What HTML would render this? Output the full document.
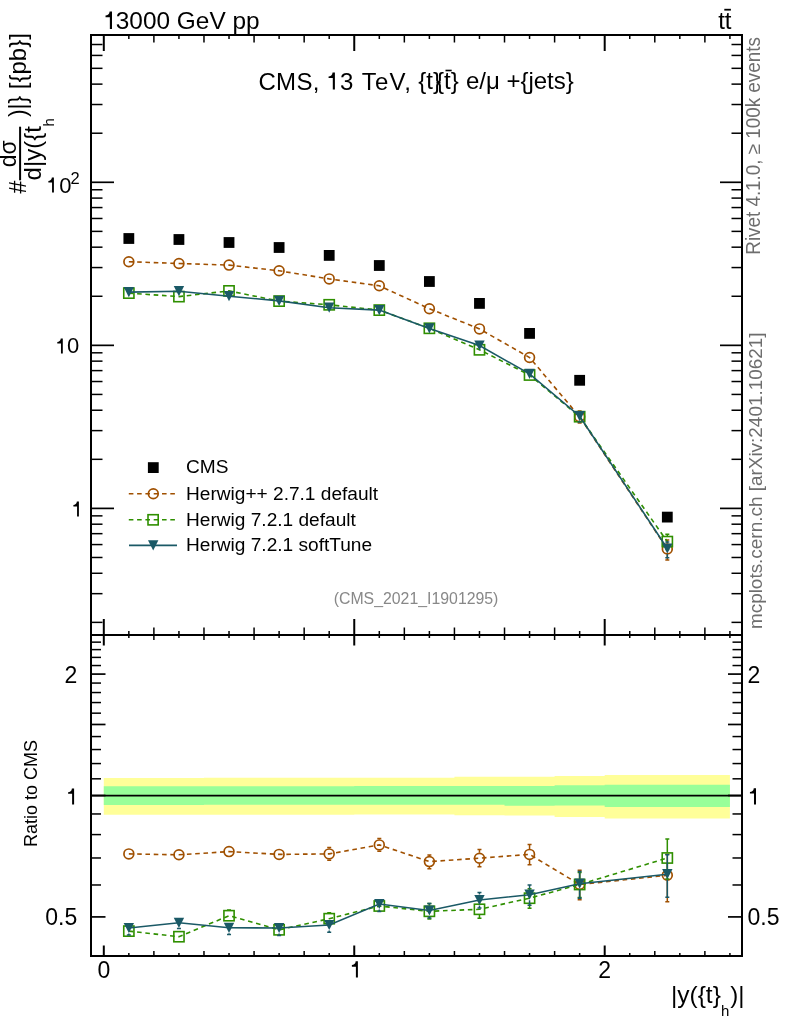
<!DOCTYPE html>
<html><head><meta charset="utf-8"><style>html,body{margin:0;padding:0;background:#fff;width:786px;height:1024px;overflow:hidden}</style></head>
<body><div style="will-change:transform;width:786px;height:1024px"><svg width="786" height="1024" viewBox="0 0 786 1024" style="display:block"><rect width="786" height="1024" fill="#fff"/><path d="M103.80,778.10 L153.89,778.10 L153.89,778.10 L203.98,778.10 L203.98,777.80 L254.07,777.80 L254.07,777.80 L304.16,777.80 L304.16,777.80 L354.25,777.80 L354.25,777.80 L404.34,777.80 L404.34,777.80 L454.43,777.80 L454.43,776.80 L504.52,776.80 L504.52,776.80 L554.61,776.80 L554.61,776.00 L604.70,776.00 L604.70,774.90 L729.92,774.90 L729.92,818.40 L604.70,818.40 L604.70,817.00 L554.61,817.00 L554.61,815.50 L504.52,815.50 L504.52,815.30 L454.43,815.30 L454.43,814.50 L404.34,814.50 L404.34,814.60 L354.25,814.60 L354.25,814.80 L304.16,814.80 L304.16,814.80 L254.07,814.80 L254.07,814.80 L203.98,814.80 L203.98,814.80 L153.89,814.80 L153.89,814.80 L103.80,814.80 Z" fill="#FFFF99"/><path d="M103.80,786.30 L153.89,786.30 L153.89,786.30 L203.98,786.30 L203.98,786.20 L254.07,786.20 L254.07,786.20 L304.16,786.20 L304.16,786.20 L354.25,786.20 L354.25,786.10 L404.34,786.10 L404.34,786.00 L454.43,786.00 L454.43,786.00 L504.52,786.00 L504.52,786.00 L554.61,786.00 L554.61,785.30 L604.70,785.30 L604.70,784.70 L729.92,784.70 L729.92,806.90 L604.70,806.90 L604.70,805.50 L554.61,805.50 L554.61,805.70 L504.52,805.70 L504.52,804.70 L454.43,804.70 L454.43,804.70 L404.34,804.70 L404.34,804.70 L354.25,804.70 L354.25,804.80 L304.16,804.80 L304.16,804.80 L254.07,804.80 L254.07,804.80 L203.98,804.80 L203.98,805.00 L153.89,805.00 L153.89,805.00 L103.80,805.00 Z" fill="#99FF99"/><line x1="91" y1="795.6" x2="742" y2="795.6" stroke="#000" stroke-width="1.6"/><line x1="103.80" y1="35.00" x2="103.80" y2="51.00" stroke="#000" stroke-width="2"/><line x1="103.80" y1="635.00" x2="103.80" y2="619.00" stroke="#000" stroke-width="2"/><line x1="103.80" y1="635.00" x2="103.80" y2="645.50" stroke="#000" stroke-width="2"/><line x1="103.80" y1="956.00" x2="103.80" y2="945.50" stroke="#000" stroke-width="2"/><line x1="128.84" y1="35.00" x2="128.84" y2="39.00" stroke="#000" stroke-width="1.5"/><line x1="128.84" y1="635.00" x2="128.84" y2="631.00" stroke="#000" stroke-width="1.5"/><line x1="128.84" y1="635.00" x2="128.84" y2="638.00" stroke="#000" stroke-width="1.5"/><line x1="128.84" y1="956.00" x2="128.84" y2="953.00" stroke="#000" stroke-width="1.5"/><line x1="153.89" y1="35.00" x2="153.89" y2="42.50" stroke="#000" stroke-width="1.5"/><line x1="153.89" y1="635.00" x2="153.89" y2="627.50" stroke="#000" stroke-width="1.5"/><line x1="153.89" y1="635.00" x2="153.89" y2="640.00" stroke="#000" stroke-width="1.5"/><line x1="153.89" y1="956.00" x2="153.89" y2="951.00" stroke="#000" stroke-width="1.5"/><line x1="178.94" y1="35.00" x2="178.94" y2="39.00" stroke="#000" stroke-width="1.5"/><line x1="178.94" y1="635.00" x2="178.94" y2="631.00" stroke="#000" stroke-width="1.5"/><line x1="178.94" y1="635.00" x2="178.94" y2="638.00" stroke="#000" stroke-width="1.5"/><line x1="178.94" y1="956.00" x2="178.94" y2="953.00" stroke="#000" stroke-width="1.5"/><line x1="203.98" y1="35.00" x2="203.98" y2="42.50" stroke="#000" stroke-width="1.5"/><line x1="203.98" y1="635.00" x2="203.98" y2="627.50" stroke="#000" stroke-width="1.5"/><line x1="203.98" y1="635.00" x2="203.98" y2="640.00" stroke="#000" stroke-width="1.5"/><line x1="203.98" y1="956.00" x2="203.98" y2="951.00" stroke="#000" stroke-width="1.5"/><line x1="229.02" y1="35.00" x2="229.02" y2="39.00" stroke="#000" stroke-width="1.5"/><line x1="229.02" y1="635.00" x2="229.02" y2="631.00" stroke="#000" stroke-width="1.5"/><line x1="229.02" y1="635.00" x2="229.02" y2="638.00" stroke="#000" stroke-width="1.5"/><line x1="229.02" y1="956.00" x2="229.02" y2="953.00" stroke="#000" stroke-width="1.5"/><line x1="254.07" y1="35.00" x2="254.07" y2="42.50" stroke="#000" stroke-width="1.5"/><line x1="254.07" y1="635.00" x2="254.07" y2="627.50" stroke="#000" stroke-width="1.5"/><line x1="254.07" y1="635.00" x2="254.07" y2="640.00" stroke="#000" stroke-width="1.5"/><line x1="254.07" y1="956.00" x2="254.07" y2="951.00" stroke="#000" stroke-width="1.5"/><line x1="279.11" y1="35.00" x2="279.11" y2="39.00" stroke="#000" stroke-width="1.5"/><line x1="279.11" y1="635.00" x2="279.11" y2="631.00" stroke="#000" stroke-width="1.5"/><line x1="279.11" y1="635.00" x2="279.11" y2="638.00" stroke="#000" stroke-width="1.5"/><line x1="279.11" y1="956.00" x2="279.11" y2="953.00" stroke="#000" stroke-width="1.5"/><line x1="304.16" y1="35.00" x2="304.16" y2="42.50" stroke="#000" stroke-width="1.5"/><line x1="304.16" y1="635.00" x2="304.16" y2="627.50" stroke="#000" stroke-width="1.5"/><line x1="304.16" y1="635.00" x2="304.16" y2="640.00" stroke="#000" stroke-width="1.5"/><line x1="304.16" y1="956.00" x2="304.16" y2="951.00" stroke="#000" stroke-width="1.5"/><line x1="329.20" y1="35.00" x2="329.20" y2="39.00" stroke="#000" stroke-width="1.5"/><line x1="329.20" y1="635.00" x2="329.20" y2="631.00" stroke="#000" stroke-width="1.5"/><line x1="329.20" y1="635.00" x2="329.20" y2="638.00" stroke="#000" stroke-width="1.5"/><line x1="329.20" y1="956.00" x2="329.20" y2="953.00" stroke="#000" stroke-width="1.5"/><line x1="354.25" y1="35.00" x2="354.25" y2="51.00" stroke="#000" stroke-width="2"/><line x1="354.25" y1="635.00" x2="354.25" y2="619.00" stroke="#000" stroke-width="2"/><line x1="354.25" y1="635.00" x2="354.25" y2="645.50" stroke="#000" stroke-width="2"/><line x1="354.25" y1="956.00" x2="354.25" y2="945.50" stroke="#000" stroke-width="2"/><line x1="379.30" y1="35.00" x2="379.30" y2="39.00" stroke="#000" stroke-width="1.5"/><line x1="379.30" y1="635.00" x2="379.30" y2="631.00" stroke="#000" stroke-width="1.5"/><line x1="379.30" y1="635.00" x2="379.30" y2="638.00" stroke="#000" stroke-width="1.5"/><line x1="379.30" y1="956.00" x2="379.30" y2="953.00" stroke="#000" stroke-width="1.5"/><line x1="404.34" y1="35.00" x2="404.34" y2="42.50" stroke="#000" stroke-width="1.5"/><line x1="404.34" y1="635.00" x2="404.34" y2="627.50" stroke="#000" stroke-width="1.5"/><line x1="404.34" y1="635.00" x2="404.34" y2="640.00" stroke="#000" stroke-width="1.5"/><line x1="404.34" y1="956.00" x2="404.34" y2="951.00" stroke="#000" stroke-width="1.5"/><line x1="429.38" y1="35.00" x2="429.38" y2="39.00" stroke="#000" stroke-width="1.5"/><line x1="429.38" y1="635.00" x2="429.38" y2="631.00" stroke="#000" stroke-width="1.5"/><line x1="429.38" y1="635.00" x2="429.38" y2="638.00" stroke="#000" stroke-width="1.5"/><line x1="429.38" y1="956.00" x2="429.38" y2="953.00" stroke="#000" stroke-width="1.5"/><line x1="454.43" y1="35.00" x2="454.43" y2="42.50" stroke="#000" stroke-width="1.5"/><line x1="454.43" y1="635.00" x2="454.43" y2="627.50" stroke="#000" stroke-width="1.5"/><line x1="454.43" y1="635.00" x2="454.43" y2="640.00" stroke="#000" stroke-width="1.5"/><line x1="454.43" y1="956.00" x2="454.43" y2="951.00" stroke="#000" stroke-width="1.5"/><line x1="479.47" y1="35.00" x2="479.47" y2="39.00" stroke="#000" stroke-width="1.5"/><line x1="479.47" y1="635.00" x2="479.47" y2="631.00" stroke="#000" stroke-width="1.5"/><line x1="479.47" y1="635.00" x2="479.47" y2="638.00" stroke="#000" stroke-width="1.5"/><line x1="479.47" y1="956.00" x2="479.47" y2="953.00" stroke="#000" stroke-width="1.5"/><line x1="504.52" y1="35.00" x2="504.52" y2="42.50" stroke="#000" stroke-width="1.5"/><line x1="504.52" y1="635.00" x2="504.52" y2="627.50" stroke="#000" stroke-width="1.5"/><line x1="504.52" y1="635.00" x2="504.52" y2="640.00" stroke="#000" stroke-width="1.5"/><line x1="504.52" y1="956.00" x2="504.52" y2="951.00" stroke="#000" stroke-width="1.5"/><line x1="529.56" y1="35.00" x2="529.56" y2="39.00" stroke="#000" stroke-width="1.5"/><line x1="529.56" y1="635.00" x2="529.56" y2="631.00" stroke="#000" stroke-width="1.5"/><line x1="529.56" y1="635.00" x2="529.56" y2="638.00" stroke="#000" stroke-width="1.5"/><line x1="529.56" y1="956.00" x2="529.56" y2="953.00" stroke="#000" stroke-width="1.5"/><line x1="554.61" y1="35.00" x2="554.61" y2="42.50" stroke="#000" stroke-width="1.5"/><line x1="554.61" y1="635.00" x2="554.61" y2="627.50" stroke="#000" stroke-width="1.5"/><line x1="554.61" y1="635.00" x2="554.61" y2="640.00" stroke="#000" stroke-width="1.5"/><line x1="554.61" y1="956.00" x2="554.61" y2="951.00" stroke="#000" stroke-width="1.5"/><line x1="579.65" y1="35.00" x2="579.65" y2="39.00" stroke="#000" stroke-width="1.5"/><line x1="579.65" y1="635.00" x2="579.65" y2="631.00" stroke="#000" stroke-width="1.5"/><line x1="579.65" y1="635.00" x2="579.65" y2="638.00" stroke="#000" stroke-width="1.5"/><line x1="579.65" y1="956.00" x2="579.65" y2="953.00" stroke="#000" stroke-width="1.5"/><line x1="604.70" y1="35.00" x2="604.70" y2="51.00" stroke="#000" stroke-width="2"/><line x1="604.70" y1="635.00" x2="604.70" y2="619.00" stroke="#000" stroke-width="2"/><line x1="604.70" y1="635.00" x2="604.70" y2="645.50" stroke="#000" stroke-width="2"/><line x1="604.70" y1="956.00" x2="604.70" y2="945.50" stroke="#000" stroke-width="2"/><line x1="629.75" y1="35.00" x2="629.75" y2="39.00" stroke="#000" stroke-width="1.5"/><line x1="629.75" y1="635.00" x2="629.75" y2="631.00" stroke="#000" stroke-width="1.5"/><line x1="629.75" y1="635.00" x2="629.75" y2="638.00" stroke="#000" stroke-width="1.5"/><line x1="629.75" y1="956.00" x2="629.75" y2="953.00" stroke="#000" stroke-width="1.5"/><line x1="654.79" y1="35.00" x2="654.79" y2="42.50" stroke="#000" stroke-width="1.5"/><line x1="654.79" y1="635.00" x2="654.79" y2="627.50" stroke="#000" stroke-width="1.5"/><line x1="654.79" y1="635.00" x2="654.79" y2="640.00" stroke="#000" stroke-width="1.5"/><line x1="654.79" y1="956.00" x2="654.79" y2="951.00" stroke="#000" stroke-width="1.5"/><line x1="679.83" y1="35.00" x2="679.83" y2="39.00" stroke="#000" stroke-width="1.5"/><line x1="679.83" y1="635.00" x2="679.83" y2="631.00" stroke="#000" stroke-width="1.5"/><line x1="679.83" y1="635.00" x2="679.83" y2="638.00" stroke="#000" stroke-width="1.5"/><line x1="679.83" y1="956.00" x2="679.83" y2="953.00" stroke="#000" stroke-width="1.5"/><line x1="704.88" y1="35.00" x2="704.88" y2="42.50" stroke="#000" stroke-width="1.5"/><line x1="704.88" y1="635.00" x2="704.88" y2="627.50" stroke="#000" stroke-width="1.5"/><line x1="704.88" y1="635.00" x2="704.88" y2="640.00" stroke="#000" stroke-width="1.5"/><line x1="704.88" y1="956.00" x2="704.88" y2="951.00" stroke="#000" stroke-width="1.5"/><line x1="729.92" y1="35.00" x2="729.92" y2="39.00" stroke="#000" stroke-width="1.5"/><line x1="729.92" y1="635.00" x2="729.92" y2="631.00" stroke="#000" stroke-width="1.5"/><line x1="729.92" y1="635.00" x2="729.92" y2="638.00" stroke="#000" stroke-width="1.5"/><line x1="729.92" y1="956.00" x2="729.92" y2="953.00" stroke="#000" stroke-width="1.5"/><line x1="91.00" y1="622.37" x2="102.50" y2="622.37" stroke="#000" stroke-width="1.5"/><line x1="742.00" y1="622.37" x2="731.50" y2="622.37" stroke="#000" stroke-width="1.5"/><line x1="91.00" y1="593.66" x2="102.50" y2="593.66" stroke="#000" stroke-width="1.5"/><line x1="742.00" y1="593.66" x2="731.50" y2="593.66" stroke="#000" stroke-width="1.5"/><line x1="91.00" y1="573.28" x2="102.50" y2="573.28" stroke="#000" stroke-width="1.5"/><line x1="742.00" y1="573.28" x2="731.50" y2="573.28" stroke="#000" stroke-width="1.5"/><line x1="91.00" y1="557.48" x2="102.50" y2="557.48" stroke="#000" stroke-width="1.5"/><line x1="742.00" y1="557.48" x2="731.50" y2="557.48" stroke="#000" stroke-width="1.5"/><line x1="91.00" y1="544.57" x2="102.50" y2="544.57" stroke="#000" stroke-width="1.5"/><line x1="742.00" y1="544.57" x2="731.50" y2="544.57" stroke="#000" stroke-width="1.5"/><line x1="91.00" y1="533.66" x2="102.50" y2="533.66" stroke="#000" stroke-width="1.5"/><line x1="742.00" y1="533.66" x2="731.50" y2="533.66" stroke="#000" stroke-width="1.5"/><line x1="91.00" y1="524.20" x2="102.50" y2="524.20" stroke="#000" stroke-width="1.5"/><line x1="742.00" y1="524.20" x2="731.50" y2="524.20" stroke="#000" stroke-width="1.5"/><line x1="91.00" y1="515.86" x2="102.50" y2="515.86" stroke="#000" stroke-width="1.5"/><line x1="742.00" y1="515.86" x2="731.50" y2="515.86" stroke="#000" stroke-width="1.5"/><line x1="91.00" y1="508.40" x2="114.00" y2="508.40" stroke="#000" stroke-width="1.7"/><line x1="742.00" y1="508.40" x2="720.00" y2="508.40" stroke="#000" stroke-width="1.7"/><line x1="91.00" y1="459.32" x2="102.50" y2="459.32" stroke="#000" stroke-width="1.5"/><line x1="742.00" y1="459.32" x2="731.50" y2="459.32" stroke="#000" stroke-width="1.5"/><line x1="91.00" y1="430.61" x2="102.50" y2="430.61" stroke="#000" stroke-width="1.5"/><line x1="742.00" y1="430.61" x2="731.50" y2="430.61" stroke="#000" stroke-width="1.5"/><line x1="91.00" y1="410.23" x2="102.50" y2="410.23" stroke="#000" stroke-width="1.5"/><line x1="742.00" y1="410.23" x2="731.50" y2="410.23" stroke="#000" stroke-width="1.5"/><line x1="91.00" y1="394.43" x2="102.50" y2="394.43" stroke="#000" stroke-width="1.5"/><line x1="742.00" y1="394.43" x2="731.50" y2="394.43" stroke="#000" stroke-width="1.5"/><line x1="91.00" y1="381.52" x2="102.50" y2="381.52" stroke="#000" stroke-width="1.5"/><line x1="742.00" y1="381.52" x2="731.50" y2="381.52" stroke="#000" stroke-width="1.5"/><line x1="91.00" y1="370.61" x2="102.50" y2="370.61" stroke="#000" stroke-width="1.5"/><line x1="742.00" y1="370.61" x2="731.50" y2="370.61" stroke="#000" stroke-width="1.5"/><line x1="91.00" y1="361.15" x2="102.50" y2="361.15" stroke="#000" stroke-width="1.5"/><line x1="742.00" y1="361.15" x2="731.50" y2="361.15" stroke="#000" stroke-width="1.5"/><line x1="91.00" y1="352.81" x2="102.50" y2="352.81" stroke="#000" stroke-width="1.5"/><line x1="742.00" y1="352.81" x2="731.50" y2="352.81" stroke="#000" stroke-width="1.5"/><line x1="91.00" y1="345.35" x2="114.00" y2="345.35" stroke="#000" stroke-width="1.7"/><line x1="742.00" y1="345.35" x2="720.00" y2="345.35" stroke="#000" stroke-width="1.7"/><line x1="91.00" y1="296.27" x2="102.50" y2="296.27" stroke="#000" stroke-width="1.5"/><line x1="742.00" y1="296.27" x2="731.50" y2="296.27" stroke="#000" stroke-width="1.5"/><line x1="91.00" y1="267.56" x2="102.50" y2="267.56" stroke="#000" stroke-width="1.5"/><line x1="742.00" y1="267.56" x2="731.50" y2="267.56" stroke="#000" stroke-width="1.5"/><line x1="91.00" y1="247.18" x2="102.50" y2="247.18" stroke="#000" stroke-width="1.5"/><line x1="742.00" y1="247.18" x2="731.50" y2="247.18" stroke="#000" stroke-width="1.5"/><line x1="91.00" y1="231.38" x2="102.50" y2="231.38" stroke="#000" stroke-width="1.5"/><line x1="742.00" y1="231.38" x2="731.50" y2="231.38" stroke="#000" stroke-width="1.5"/><line x1="91.00" y1="218.47" x2="102.50" y2="218.47" stroke="#000" stroke-width="1.5"/><line x1="742.00" y1="218.47" x2="731.50" y2="218.47" stroke="#000" stroke-width="1.5"/><line x1="91.00" y1="207.56" x2="102.50" y2="207.56" stroke="#000" stroke-width="1.5"/><line x1="742.00" y1="207.56" x2="731.50" y2="207.56" stroke="#000" stroke-width="1.5"/><line x1="91.00" y1="198.10" x2="102.50" y2="198.10" stroke="#000" stroke-width="1.5"/><line x1="742.00" y1="198.10" x2="731.50" y2="198.10" stroke="#000" stroke-width="1.5"/><line x1="91.00" y1="189.76" x2="102.50" y2="189.76" stroke="#000" stroke-width="1.5"/><line x1="742.00" y1="189.76" x2="731.50" y2="189.76" stroke="#000" stroke-width="1.5"/><line x1="91.00" y1="182.30" x2="114.00" y2="182.30" stroke="#000" stroke-width="1.7"/><line x1="742.00" y1="182.30" x2="720.00" y2="182.30" stroke="#000" stroke-width="1.7"/><line x1="91.00" y1="133.22" x2="102.50" y2="133.22" stroke="#000" stroke-width="1.5"/><line x1="742.00" y1="133.22" x2="731.50" y2="133.22" stroke="#000" stroke-width="1.5"/><line x1="91.00" y1="104.51" x2="102.50" y2="104.51" stroke="#000" stroke-width="1.5"/><line x1="742.00" y1="104.51" x2="731.50" y2="104.51" stroke="#000" stroke-width="1.5"/><line x1="91.00" y1="84.13" x2="102.50" y2="84.13" stroke="#000" stroke-width="1.5"/><line x1="742.00" y1="84.13" x2="731.50" y2="84.13" stroke="#000" stroke-width="1.5"/><line x1="91.00" y1="68.33" x2="102.50" y2="68.33" stroke="#000" stroke-width="1.5"/><line x1="742.00" y1="68.33" x2="731.50" y2="68.33" stroke="#000" stroke-width="1.5"/><line x1="91.00" y1="55.42" x2="102.50" y2="55.42" stroke="#000" stroke-width="1.5"/><line x1="742.00" y1="55.42" x2="731.50" y2="55.42" stroke="#000" stroke-width="1.5"/><line x1="91.00" y1="44.51" x2="102.50" y2="44.51" stroke="#000" stroke-width="1.5"/><line x1="742.00" y1="44.51" x2="731.50" y2="44.51" stroke="#000" stroke-width="1.5"/><line x1="91.00" y1="35.05" x2="102.50" y2="35.05" stroke="#000" stroke-width="1.5"/><line x1="742.00" y1="35.05" x2="731.50" y2="35.05" stroke="#000" stroke-width="1.5"/><line x1="91.00" y1="956.00" x2="101.00" y2="956.00" stroke="#000" stroke-width="1.5"/><line x1="742.00" y1="956.00" x2="732.50" y2="956.00" stroke="#000" stroke-width="1.5"/><line x1="91.00" y1="916.91" x2="105.50" y2="916.91" stroke="#000" stroke-width="1.7"/><line x1="742.00" y1="916.91" x2="728.00" y2="916.91" stroke="#000" stroke-width="1.7"/><line x1="91.00" y1="884.98" x2="101.00" y2="884.98" stroke="#000" stroke-width="1.5"/><line x1="742.00" y1="884.98" x2="732.50" y2="884.98" stroke="#000" stroke-width="1.5"/><line x1="91.00" y1="857.98" x2="101.00" y2="857.98" stroke="#000" stroke-width="1.5"/><line x1="742.00" y1="857.98" x2="732.50" y2="857.98" stroke="#000" stroke-width="1.5"/><line x1="91.00" y1="834.59" x2="101.00" y2="834.59" stroke="#000" stroke-width="1.5"/><line x1="742.00" y1="834.59" x2="732.50" y2="834.59" stroke="#000" stroke-width="1.5"/><line x1="91.00" y1="813.96" x2="101.00" y2="813.96" stroke="#000" stroke-width="1.5"/><line x1="742.00" y1="813.96" x2="732.50" y2="813.96" stroke="#000" stroke-width="1.5"/><line x1="91.00" y1="795.50" x2="105.50" y2="795.50" stroke="#000" stroke-width="1.7"/><line x1="742.00" y1="795.50" x2="728.00" y2="795.50" stroke="#000" stroke-width="1.7"/><line x1="91.00" y1="778.81" x2="101.00" y2="778.81" stroke="#000" stroke-width="1.5"/><line x1="742.00" y1="778.81" x2="732.50" y2="778.81" stroke="#000" stroke-width="1.5"/><line x1="91.00" y1="763.56" x2="101.00" y2="763.56" stroke="#000" stroke-width="1.5"/><line x1="742.00" y1="763.56" x2="732.50" y2="763.56" stroke="#000" stroke-width="1.5"/><line x1="91.00" y1="749.54" x2="101.00" y2="749.54" stroke="#000" stroke-width="1.5"/><line x1="742.00" y1="749.54" x2="732.50" y2="749.54" stroke="#000" stroke-width="1.5"/><line x1="91.00" y1="736.56" x2="101.00" y2="736.56" stroke="#000" stroke-width="1.5"/><line x1="742.00" y1="736.56" x2="732.50" y2="736.56" stroke="#000" stroke-width="1.5"/><line x1="91.00" y1="724.48" x2="105.50" y2="724.48" stroke="#000" stroke-width="1.7"/><line x1="742.00" y1="724.48" x2="728.00" y2="724.48" stroke="#000" stroke-width="1.7"/><line x1="91.00" y1="713.17" x2="101.00" y2="713.17" stroke="#000" stroke-width="1.5"/><line x1="742.00" y1="713.17" x2="732.50" y2="713.17" stroke="#000" stroke-width="1.5"/><line x1="91.00" y1="702.55" x2="101.00" y2="702.55" stroke="#000" stroke-width="1.5"/><line x1="742.00" y1="702.55" x2="732.50" y2="702.55" stroke="#000" stroke-width="1.5"/><line x1="91.00" y1="692.54" x2="101.00" y2="692.54" stroke="#000" stroke-width="1.5"/><line x1="742.00" y1="692.54" x2="732.50" y2="692.54" stroke="#000" stroke-width="1.5"/><line x1="91.00" y1="683.07" x2="101.00" y2="683.07" stroke="#000" stroke-width="1.5"/><line x1="742.00" y1="683.07" x2="732.50" y2="683.07" stroke="#000" stroke-width="1.5"/><line x1="91.00" y1="674.09" x2="105.50" y2="674.09" stroke="#000" stroke-width="1.7"/><line x1="742.00" y1="674.09" x2="728.00" y2="674.09" stroke="#000" stroke-width="1.7"/><line x1="91.00" y1="665.54" x2="101.00" y2="665.54" stroke="#000" stroke-width="1.5"/><line x1="742.00" y1="665.54" x2="732.50" y2="665.54" stroke="#000" stroke-width="1.5"/><line x1="91.00" y1="657.39" x2="101.00" y2="657.39" stroke="#000" stroke-width="1.5"/><line x1="742.00" y1="657.39" x2="732.50" y2="657.39" stroke="#000" stroke-width="1.5"/><line x1="91.00" y1="649.61" x2="101.00" y2="649.61" stroke="#000" stroke-width="1.5"/><line x1="742.00" y1="649.61" x2="732.50" y2="649.61" stroke="#000" stroke-width="1.5"/><line x1="91.00" y1="642.15" x2="101.00" y2="642.15" stroke="#000" stroke-width="1.5"/><line x1="742.00" y1="642.15" x2="732.50" y2="642.15" stroke="#000" stroke-width="1.5"/><line x1="91.00" y1="635.00" x2="101.00" y2="635.00" stroke="#000" stroke-width="1.5"/><line x1="742.00" y1="635.00" x2="732.50" y2="635.00" stroke="#000" stroke-width="1.5"/><rect x="91" y="35" width="651" height="921" fill="none" stroke="#000" stroke-width="2"/><line x1="91" y1="635" x2="742" y2="635" stroke="#000" stroke-width="2"/><path d="M579.65,411.02 V411.30 M579.65,422.30 V422.98 M577.65,411.02 H581.65 M577.65,422.98 H581.65" stroke="#A05000" stroke-width="1.5" fill="none"/><path d="M667.31,539.90 V543.50 M667.31,554.50 V560.00 M665.31,539.90 H669.31 M665.31,560.00 H669.31" stroke="#A05000" stroke-width="1.5" fill="none"/><polyline points="128.84,261.70 178.94,263.50 229.02,265.10 279.11,270.80 329.20,278.90 379.30,285.80 429.38,308.70 479.47,328.90 529.56,357.50 579.65,416.80 667.31,549.00" fill="none" stroke="#A05000" stroke-width="1.6" stroke-dasharray="4.6,3.7"/><circle cx="128.84" cy="261.70" r="4.9" fill="none" stroke="#A05000" stroke-width="1.7"/><circle cx="178.94" cy="263.50" r="4.9" fill="none" stroke="#A05000" stroke-width="1.7"/><circle cx="229.02" cy="265.10" r="4.9" fill="none" stroke="#A05000" stroke-width="1.7"/><circle cx="279.11" cy="270.80" r="4.9" fill="none" stroke="#A05000" stroke-width="1.7"/><circle cx="329.20" cy="278.90" r="4.9" fill="none" stroke="#A05000" stroke-width="1.7"/><circle cx="379.30" cy="285.80" r="4.9" fill="none" stroke="#A05000" stroke-width="1.7"/><circle cx="429.38" cy="308.70" r="4.9" fill="none" stroke="#A05000" stroke-width="1.7"/><circle cx="479.47" cy="328.90" r="4.9" fill="none" stroke="#A05000" stroke-width="1.7"/><circle cx="529.56" cy="357.50" r="4.9" fill="none" stroke="#A05000" stroke-width="1.7"/><circle cx="579.65" cy="416.80" r="4.9" fill="none" stroke="#A05000" stroke-width="1.7"/><circle cx="667.31" cy="549.00" r="4.9" fill="none" stroke="#A05000" stroke-width="1.7"/><path d="M667.31,534.30 V536.10 M667.31,547.10 V549.60 M665.31,534.30 H669.31 M665.31,549.60 H669.31" stroke="#2F8F00" stroke-width="1.5" fill="none"/><polyline points="128.84,293.10 178.94,296.60 229.02,290.90 279.11,301.10 329.20,304.80 379.30,310.10 429.38,328.30 479.47,349.80 529.56,375.00 579.65,416.70 667.31,541.60" fill="none" stroke="#2F8F00" stroke-width="1.6" stroke-dasharray="4.6,3.7"/><rect x="123.75" y="288.00" width="10.2" height="10.2" fill="none" stroke="#2F8F00" stroke-width="1.6"/><rect x="173.84" y="291.50" width="10.2" height="10.2" fill="none" stroke="#2F8F00" stroke-width="1.6"/><rect x="223.92" y="285.80" width="10.2" height="10.2" fill="none" stroke="#2F8F00" stroke-width="1.6"/><rect x="274.01" y="296.00" width="10.2" height="10.2" fill="none" stroke="#2F8F00" stroke-width="1.6"/><rect x="324.10" y="299.70" width="10.2" height="10.2" fill="none" stroke="#2F8F00" stroke-width="1.6"/><rect x="374.19" y="305.00" width="10.2" height="10.2" fill="none" stroke="#2F8F00" stroke-width="1.6"/><rect x="424.28" y="323.20" width="10.2" height="10.2" fill="none" stroke="#2F8F00" stroke-width="1.6"/><rect x="474.37" y="344.70" width="10.2" height="10.2" fill="none" stroke="#2F8F00" stroke-width="1.6"/><rect x="524.46" y="369.90" width="10.2" height="10.2" fill="none" stroke="#2F8F00" stroke-width="1.6"/><rect x="574.55" y="411.60" width="10.2" height="10.2" fill="none" stroke="#2F8F00" stroke-width="1.6"/><rect x="662.21" y="536.50" width="10.2" height="10.2" fill="none" stroke="#2F8F00" stroke-width="1.6"/><path d="M579.65,421.70 V422.06 M577.65,422.06 H581.65" stroke="#1A5966" stroke-width="1.5" fill="none"/><path d="M667.31,541.90 V543.00 M667.31,554.00 V557.70 M665.31,541.90 H669.31 M665.31,557.70 H669.31" stroke="#1A5966" stroke-width="1.5" fill="none"/><polyline points="128.84,292.10 178.94,291.20 229.02,296.20 279.11,300.90 329.20,307.70 379.30,310.10 429.38,328.40 479.47,345.50 529.56,373.90 579.65,416.20 667.31,548.50" fill="none" stroke="#1A5966" stroke-width="1.6"/><path d="M123.64,287.00 L134.04,287.00 L128.84,297.20 Z" fill="#1A5966"/><path d="M173.74,286.10 L184.13,286.10 L178.94,296.30 Z" fill="#1A5966"/><path d="M223.82,291.10 L234.22,291.10 L229.02,301.30 Z" fill="#1A5966"/><path d="M273.91,295.80 L284.31,295.80 L279.11,306.00 Z" fill="#1A5966"/><path d="M324.00,302.60 L334.40,302.60 L329.20,312.80 Z" fill="#1A5966"/><path d="M374.10,305.00 L384.50,305.00 L379.30,315.20 Z" fill="#1A5966"/><path d="M424.19,323.30 L434.58,323.30 L429.38,333.50 Z" fill="#1A5966"/><path d="M474.27,340.40 L484.67,340.40 L479.47,350.60 Z" fill="#1A5966"/><path d="M524.36,368.80 L534.76,368.80 L529.56,379.00 Z" fill="#1A5966"/><path d="M574.45,411.10 L584.86,411.10 L579.65,421.30 Z" fill="#1A5966"/><path d="M662.11,543.40 L672.51,543.40 L667.31,553.60 Z" fill="#1A5966"/><rect x="123.44" y="233.10" width="10.8" height="10.8" fill="#000"/><rect x="173.53" y="234.10" width="10.8" height="10.8" fill="#000"/><rect x="223.62" y="237.10" width="10.8" height="10.8" fill="#000"/><rect x="273.71" y="242.10" width="10.8" height="10.8" fill="#000"/><rect x="323.81" y="250.00" width="10.8" height="10.8" fill="#000"/><rect x="373.90" y="260.10" width="10.8" height="10.8" fill="#000"/><rect x="423.99" y="276.10" width="10.8" height="10.8" fill="#000"/><rect x="474.07" y="298.00" width="10.8" height="10.8" fill="#000"/><rect x="524.16" y="328.00" width="10.8" height="10.8" fill="#000"/><rect x="574.25" y="374.90" width="10.8" height="10.8" fill="#000"/><rect x="661.91" y="511.70" width="10.8" height="10.8" fill="#000"/><path d="M329.20,847.60 V848.40 M329.20,859.40 V860.20 M327.20,847.60 H331.20 M327.20,860.20 H331.20" stroke="#A05000" stroke-width="1.5" fill="none"/><path d="M379.30,838.60 V839.40 M379.30,850.40 V851.20 M377.30,838.60 H381.30 M377.30,851.20 H381.30" stroke="#A05000" stroke-width="1.5" fill="none"/><path d="M429.38,855.00 V856.10 M429.38,867.10 V868.70 M427.38,855.00 H431.38 M427.38,868.70 H431.38" stroke="#A05000" stroke-width="1.5" fill="none"/><path d="M479.47,849.60 V852.70 M479.47,863.70 V866.80 M477.47,849.60 H481.47 M477.47,866.80 H481.47" stroke="#A05000" stroke-width="1.5" fill="none"/><path d="M529.56,844.40 V848.90 M529.56,859.90 V864.80 M527.56,844.40 H531.56 M527.56,864.80 H531.56" stroke="#A05000" stroke-width="1.5" fill="none"/><path d="M579.65,870.20 V879.00 M579.65,890.00 V899.80 M577.65,870.20 H581.65 M577.65,899.80 H581.65" stroke="#A05000" stroke-width="1.5" fill="none"/><path d="M667.31,854.30 V869.80 M667.31,880.80 V901.70 M665.31,854.30 H669.31 M665.31,901.70 H669.31" stroke="#A05000" stroke-width="1.5" fill="none"/><polyline points="128.84,853.90 178.94,854.80 229.02,851.60 279.11,854.40 329.20,853.90 379.30,844.90 429.38,861.60 479.47,858.20 529.56,854.40 579.65,884.50 667.31,875.30" fill="none" stroke="#A05000" stroke-width="1.6" stroke-dasharray="4.6,3.7"/><circle cx="128.84" cy="853.90" r="4.9" fill="none" stroke="#A05000" stroke-width="1.7"/><circle cx="178.94" cy="854.80" r="4.9" fill="none" stroke="#A05000" stroke-width="1.7"/><circle cx="229.02" cy="851.60" r="4.9" fill="none" stroke="#A05000" stroke-width="1.7"/><circle cx="279.11" cy="854.40" r="4.9" fill="none" stroke="#A05000" stroke-width="1.7"/><circle cx="329.20" cy="853.90" r="4.9" fill="none" stroke="#A05000" stroke-width="1.7"/><circle cx="379.30" cy="844.90" r="4.9" fill="none" stroke="#A05000" stroke-width="1.7"/><circle cx="429.38" cy="861.60" r="4.9" fill="none" stroke="#A05000" stroke-width="1.7"/><circle cx="479.47" cy="858.20" r="4.9" fill="none" stroke="#A05000" stroke-width="1.7"/><circle cx="529.56" cy="854.40" r="4.9" fill="none" stroke="#A05000" stroke-width="1.7"/><circle cx="579.65" cy="884.50" r="4.9" fill="none" stroke="#A05000" stroke-width="1.7"/><circle cx="667.31" cy="875.30" r="4.9" fill="none" stroke="#A05000" stroke-width="1.7"/><path d="M229.02,909.90 V910.20 M227.02,909.90 H231.02 " stroke="#2F8F00" stroke-width="1.5" fill="none"/><path d="M329.20,912.70 V913.20 M327.20,912.70 H331.20 " stroke="#2F8F00" stroke-width="1.5" fill="none"/><path d="M429.38,903.60 V905.80 M429.38,916.80 V918.90 M427.38,903.60 H431.38 M427.38,918.90 H431.38" stroke="#2F8F00" stroke-width="1.5" fill="none"/><path d="M479.47,900.80 V903.80 M479.47,914.80 V918.30 M477.47,900.80 H481.47 M477.47,918.30 H481.47" stroke="#2F8F00" stroke-width="1.5" fill="none"/><path d="M529.56,888.70 V892.70 M529.56,903.70 V908.20 M527.56,888.70 H531.56 M527.56,908.20 H531.56" stroke="#2F8F00" stroke-width="1.5" fill="none"/><path d="M579.65,872.50 V879.00 M579.65,890.00 V897.50 M577.65,872.50 H581.65 M577.65,897.50 H581.65" stroke="#2F8F00" stroke-width="1.5" fill="none"/><path d="M667.31,839.00 V852.50 M667.31,863.50 V879.00 M665.31,839.00 H669.31 M665.31,879.00 H669.31" stroke="#2F8F00" stroke-width="1.5" fill="none"/><polyline points="128.84,931.10 178.94,936.70 229.02,915.70 279.11,929.80 329.20,918.70 379.30,906.00 429.38,911.30 479.47,909.30 529.56,898.20 579.65,884.50 667.31,858.00" fill="none" stroke="#2F8F00" stroke-width="1.6" stroke-dasharray="4.6,3.7"/><rect x="123.75" y="926.00" width="10.2" height="10.2" fill="none" stroke="#2F8F00" stroke-width="1.6"/><rect x="173.84" y="931.60" width="10.2" height="10.2" fill="none" stroke="#2F8F00" stroke-width="1.6"/><rect x="223.92" y="910.60" width="10.2" height="10.2" fill="none" stroke="#2F8F00" stroke-width="1.6"/><rect x="274.01" y="924.70" width="10.2" height="10.2" fill="none" stroke="#2F8F00" stroke-width="1.6"/><rect x="324.10" y="913.60" width="10.2" height="10.2" fill="none" stroke="#2F8F00" stroke-width="1.6"/><rect x="374.19" y="900.90" width="10.2" height="10.2" fill="none" stroke="#2F8F00" stroke-width="1.6"/><rect x="424.28" y="906.20" width="10.2" height="10.2" fill="none" stroke="#2F8F00" stroke-width="1.6"/><rect x="474.37" y="904.20" width="10.2" height="10.2" fill="none" stroke="#2F8F00" stroke-width="1.6"/><rect x="524.46" y="893.10" width="10.2" height="10.2" fill="none" stroke="#2F8F00" stroke-width="1.6"/><rect x="574.55" y="879.40" width="10.2" height="10.2" fill="none" stroke="#2F8F00" stroke-width="1.6"/><rect x="662.21" y="852.90" width="10.2" height="10.2" fill="none" stroke="#2F8F00" stroke-width="1.6"/><path d="M128.84,933.50 V935.00 M126.84,935.00 H130.84" stroke="#1A5966" stroke-width="1.5" fill="none"/><path d="M178.94,928.30 V928.60 M176.94,928.60 H180.94" stroke="#1A5966" stroke-width="1.5" fill="none"/><path d="M229.02,933.30 V934.50 M227.02,934.50 H231.02" stroke="#1A5966" stroke-width="1.5" fill="none"/><path d="M279.11,933.50 V935.50 M277.11,935.50 H281.11" stroke="#1A5966" stroke-width="1.5" fill="none"/><path d="M329.20,930.50 V932.30 M327.20,932.30 H331.20" stroke="#1A5966" stroke-width="1.5" fill="none"/><path d="M379.30,909.50 V911.60 M377.30,911.60 H381.30" stroke="#1A5966" stroke-width="1.5" fill="none"/><path d="M429.38,903.60 V905.00 M429.38,916.00 V917.90 M427.38,903.60 H431.38 M427.38,917.90 H431.38" stroke="#1A5966" stroke-width="1.5" fill="none"/><path d="M479.47,892.50 V894.50 M479.47,905.50 V908.00 M477.47,892.50 H481.47 M477.47,908.00 H481.47" stroke="#1A5966" stroke-width="1.5" fill="none"/><path d="M529.56,884.90 V889.20 M529.56,900.20 V905.20 M527.56,884.90 H531.56 M527.56,905.20 H531.56" stroke="#1A5966" stroke-width="1.5" fill="none"/><path d="M579.65,871.50 V878.20 M579.65,889.20 V898.20 M577.65,871.50 H581.65 M577.65,898.20 H581.65" stroke="#1A5966" stroke-width="1.5" fill="none"/><path d="M667.31,854.70 V868.70 M667.31,879.70 V897.30 M665.31,854.70 H669.31 M665.31,897.30 H669.31" stroke="#1A5966" stroke-width="1.5" fill="none"/><polyline points="128.84,928.00 178.94,922.80 229.02,927.80 279.11,928.00 329.20,925.00 379.30,904.00 429.38,910.50 479.47,900.00 529.56,894.70 579.65,883.70 667.31,874.20" fill="none" stroke="#1A5966" stroke-width="1.6"/><path d="M123.64,922.90 L134.04,922.90 L128.84,933.10 Z" fill="#1A5966"/><path d="M173.74,917.70 L184.13,917.70 L178.94,927.90 Z" fill="#1A5966"/><path d="M223.82,922.70 L234.22,922.70 L229.02,932.90 Z" fill="#1A5966"/><path d="M273.91,922.90 L284.31,922.90 L279.11,933.10 Z" fill="#1A5966"/><path d="M324.00,919.90 L334.40,919.90 L329.20,930.10 Z" fill="#1A5966"/><path d="M374.10,898.90 L384.50,898.90 L379.30,909.10 Z" fill="#1A5966"/><path d="M424.19,905.40 L434.58,905.40 L429.38,915.60 Z" fill="#1A5966"/><path d="M474.27,894.90 L484.67,894.90 L479.47,905.10 Z" fill="#1A5966"/><path d="M524.36,889.60 L534.76,889.60 L529.56,899.80 Z" fill="#1A5966"/><path d="M574.45,878.60 L584.86,878.60 L579.65,888.80 Z" fill="#1A5966"/><path d="M662.11,869.10 L672.51,869.10 L667.31,879.30 Z" fill="#1A5966"/><rect x="147.90" y="462.20" width="10.8" height="10.8" fill="#000"/><line x1="128.8" y1="493.8" x2="178" y2="493.8" stroke="#A05000" stroke-width="1.6" stroke-dasharray="4.6,3.7"/><circle cx="153.30" cy="493.80" r="4.9" fill="none" stroke="#A05000" stroke-width="1.7"/><line x1="128.8" y1="519.8" x2="178" y2="519.8" stroke="#2F8F00" stroke-width="1.6" stroke-dasharray="4.6,3.7"/><rect x="148.00" y="514.70" width="10.2" height="10.2" fill="none" stroke="#2F8F00" stroke-width="1.6"/><line x1="129" y1="545.4" x2="177" y2="545.4" stroke="#1A5966" stroke-width="1.6"/><path d="M148.00,540.30 L158.40,540.30 L153.20,550.50 Z" fill="#1A5966"/><text x="186" y="473.2" font-family="'Liberation Sans', sans-serif" font-size="19.1" text-anchor="start" fill="#000" >CMS</text><text x="186" y="499.9" font-family="'Liberation Sans', sans-serif" font-size="19.1" text-anchor="start" fill="#000" >Herwig++ 2.7.1 default</text><text x="186" y="525.8" font-family="'Liberation Sans', sans-serif" font-size="19.1" text-anchor="start" fill="#000" >Herwig 7.2.1 default</text><text x="186" y="550.6" font-family="'Liberation Sans', sans-serif" font-size="19.1" text-anchor="start" fill="#000" >Herwig 7.2.1 softTune</text><path d="M112.00,28.90 L112.00,11.40 L109.61,11.40 C109.61,14.08 107.36,15.43 105.53,15.43 L105.53,17.14 L109.85,17.14 L109.85,28.90 Z" fill="#000"/><text x="115.8" y="28.9" font-family="'Liberation Sans', sans-serif" font-size="24" text-anchor="start" fill="#000" textLength="143.8" lengthAdjust="spacingAndGlyphs">3000 GeV pp</text><text x="731.5" y="29.4" font-family="'Liberation Sans', sans-serif" font-size="24" text-anchor="end">tt</text><line x1="724.3" y1="9.7" x2="730.9" y2="9.7" stroke="#000" stroke-width="1.8"/><text x="258.4" y="89.6" font-family="'Liberation Sans', sans-serif" font-size="24" text-anchor="start" fill="#000" textLength="61" lengthAdjust="spacing">CMS,</text><path d="M334.90,89.60 L334.90,72.50 L332.56,72.50 C332.56,75.12 330.37,76.44 328.58,76.44 L328.58,78.10 L332.80,78.10 L332.80,89.60 Z" fill="#000"/><text x="339.9" y="89.6" font-family="'Liberation Sans', sans-serif" font-size="24" text-anchor="start" fill="#000" textLength="71.1" lengthAdjust="spacing">3 TeV,</text><text x="418.3" y="89.2" font-family="'Liberation Sans', sans-serif" font-size="24" text-anchor="start" fill="#000" >{t}</text><text x="436.1" y="89.2" font-family="'Liberation Sans', sans-serif" font-size="24" text-anchor="start" fill="#000" >{t}</text><line x1="445.5" y1="70.5" x2="451.7" y2="70.5" stroke="#000" stroke-width="1.6"/><text x="465.9" y="89.2" font-family="'Liberation Sans', sans-serif" font-size="24" text-anchor="start" fill="#000" >e/μ +{jets}</text><text x="333.7" y="604.2" font-family="'Liberation Sans', sans-serif" font-size="15.85" text-anchor="start" fill="#888" >(CMS_2021_I1901295)</text><path d="M53.90,192.60 L53.90,177.60 L51.85,177.60 C51.85,179.90 49.93,181.05 48.36,181.05 L48.36,182.52 L52.06,182.52 L52.06,192.60 Z" fill="#000"/><text x="59.3" y="192.6" font-family="'Liberation Sans', sans-serif" font-size="22" text-anchor="start" fill="#000" >0</text><text x="70.6" y="183.8" font-family="'Liberation Sans', sans-serif" font-size="16.5" text-anchor="start" fill="#000" >2</text><path d="M62.80,353.40 L62.80,338.50 L60.76,338.50 C60.76,340.79 58.85,341.93 57.29,341.93 L57.29,343.38 L60.97,343.38 L60.97,353.40 Z" fill="#000"/><text x="67.0" y="353.4" font-family="'Liberation Sans', sans-serif" font-size="22" text-anchor="start" fill="#000" >0</text><path d="M78.90,516.40 L78.90,501.50 L76.86,501.50 C76.86,503.79 74.95,504.93 73.39,504.93 L73.39,506.38 L77.07,506.38 L77.07,516.40 Z" fill="#000"/><text x="77.2" y="682.8" font-family="'Liberation Sans', sans-serif" font-size="23" text-anchor="end" fill="#000" >2</text><path d="M74.10,804.60 L74.10,788.40 L71.89,788.40 C71.89,790.89 69.81,792.13 68.11,792.13 L68.11,793.71 L72.11,793.71 L72.11,804.60 Z" fill="#000"/><text x="77.2" y="925.3" font-family="'Liberation Sans', sans-serif" font-size="23" text-anchor="end" fill="#000" >0.5</text><text x="747.5" y="682.8" font-family="'Liberation Sans', sans-serif" font-size="23" text-anchor="start" fill="#000" >2</text><path d="M756.00,804.60 L756.00,788.20 L753.76,788.20 C753.76,790.72 751.65,791.97 749.94,791.97 L749.94,793.58 L753.99,793.58 L753.99,804.60 Z" fill="#000"/><text x="747.5" y="925.3" font-family="'Liberation Sans', sans-serif" font-size="23" text-anchor="start" fill="#000" >0.5</text><text x="103.8" y="978.3" font-family="'Liberation Sans', sans-serif" font-size="23" text-anchor="middle" fill="#000" >0</text><path d="M357.90,977.60 L357.90,961.30 L355.67,961.30 C355.67,963.80 353.58,965.05 351.88,965.05 L351.88,966.64 L355.90,966.64 L355.90,977.60 Z" fill="#000"/><text x="604.6999999999999" y="978.3" font-family="'Liberation Sans', sans-serif" font-size="23" text-anchor="middle" fill="#000" >2</text><text transform="translate(760.3,254.7) rotate(-90)" x="0" y="0" font-family="'Liberation Sans', sans-serif" font-size="19.3" fill="#6E6E6E" textLength="217.5" lengthAdjust="spacingAndGlyphs">Rivet 4.1.0, ≥ 100k events</text><text transform="translate(762,629.1) rotate(-90)" x="0" y="0" font-family="'Liberation Sans', sans-serif" font-size="19" fill="#6E6E6E" textLength="296.7" lengthAdjust="spacingAndGlyphs">mcplots.cern.ch [arXiv:2401.10621]</text><text x="0" y="0" font-family="'Liberation Sans', sans-serif" font-size="18" text-anchor="start" fill="#000" transform="translate(37,847.1) rotate(-90)">Ratio to CMS</text><text x="670.9" y="1002.6" font-family="'Liberation Sans', sans-serif" font-size="24.5" text-anchor="start" fill="#000" >|y({t}</text><text x="720.9" y="1016" font-family="'Liberation Sans', sans-serif" font-size="15" text-anchor="start" fill="#000" >h</text><text x="730.2" y="1002.6" font-family="'Liberation Sans', sans-serif" font-size="24" text-anchor="start" fill="#000" >)|</text><g transform="rotate(-90)"><text x="-193.5" y="26.4" font-family="'Liberation Sans', sans-serif" font-size="23" text-anchor="start" fill="#000" >#</text><text x="-167.3" y="16.2" font-family="'Liberation Sans', sans-serif" font-size="23" text-anchor="start" fill="#000" >dσ</text><line x1="-180.3" y1="20.1" x2="-126.7" y2="20.1" stroke="#000" stroke-width="2"/><text x="-180.4" y="41.3" font-family="'Liberation Sans', sans-serif" font-size="24" text-anchor="start" fill="#000" >d|y({t</text><text x="-126.4" y="53.9" font-family="'Liberation Sans', sans-serif" font-size="15" text-anchor="start" fill="#000" >h</text><text x="-117.1" y="26.4" font-family="'Liberation Sans', sans-serif" font-size="23" text-anchor="start" fill="#000" >)|}</text><text x="-89.2" y="25.8" font-family="'Liberation Sans', sans-serif" font-size="24" text-anchor="start" fill="#000" >[{pb}]</text></g></svg></div></body></html>
